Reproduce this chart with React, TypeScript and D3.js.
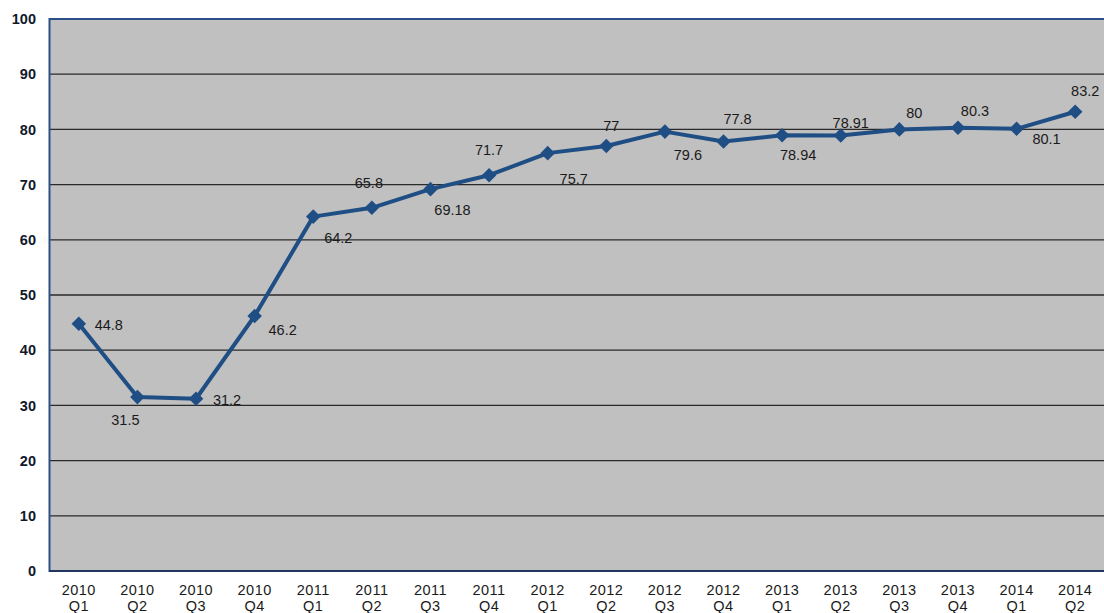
import React from "react";
import * as d3 from "d3";

// Quarterly series
const years = ["2010", "2010", "2010", "2010", "2011", "2011", "2011", "2011", "2012", "2012", "2012", "2012", "2013", "2013", "2013", "2013", "2014", "2014"];
const quarters = ["Q1", "Q2", "Q3", "Q4", "Q1", "Q2", "Q3", "Q4", "Q1", "Q2", "Q3", "Q4", "Q1", "Q2", "Q3", "Q4", "Q1", "Q2"];
const values = [44.8, 31.5, 31.2, 46.2, 64.2, 65.8, 69.18, 71.7, 75.7, 77, 79.6, 77.8, 78.94, 78.91, 80, 80.3, 80.1, 83.2];
const valueLabels = ["44.8", "31.5", "31.2", "46.2", "64.2", "65.8", "69.18", "71.7", "75.7", "77", "79.6", "77.8", "78.94", "78.91", "80", "80.3", "80.1", "83.2"];
const yTicks = [0, 10, 20, 30, 40, 50, 60, 70, 80, 90, 100];

// Where each value label sits relative to its marker (label centre, px)
const labelOffsets: [number, number][] = [
  [30, 1], [-12, 23], [31, 1], [28, 14], [25, 21], [-3, -25], [22, 21], [0, -25], [26, 26],
  [5, -20], [23, 23], [14, -23], [16, 20], [10, -13], [15, -17], [17, -17], [30, 10], [10, -21],
];

const W = 1104;
const H = 613;
const plot = { left: 49.5, right: 1104.5, top: 19, bottom: 571 };
const font = "'Liberation Sans', Arial, sans-serif";
const lineColor = "#1f4e85";
const borderColor = "#2b4f86";

export default function App() {
  const keys = years.map((y, i) => `${y}-${quarters[i]}`);
  const x = d3.scaleBand<string>().domain(keys).range([plot.left, plot.right]).padding(0);
  const y = d3.scaleLinear().domain([0, 100]).range([plot.bottom, plot.top]);
  const cx = (i: number) => (x(keys[i]) as number) + x.bandwidth() / 2;

  const line = d3
    .line<number>()
    .x((_, i) => cx(i))
    .y((d) => y(d));

  const diamond = d3.symbol().type(d3.symbolDiamond2).size(135)() as string;

  return (
    <div style={{ position: "absolute", left: 0, top: 0 }}>
      <svg width={W} height={H} style={{ display: "block", fontFamily: font }}>
        <rect x={0} y={0} width={W} height={H} fill="#ffffff" />
        <rect x={plot.left} y={plot.top} width={plot.right - plot.left} height={plot.bottom - plot.top} fill="#c0c0c0" />

        {/* horizontal gridlines */}
        {yTicks
          .filter((t) => t > 0 && t < 100)
          .map((t) => (
            <line key={t} x1={plot.left} x2={plot.right} y1={y(t)} y2={y(t)} stroke="#2a2a2a" strokeWidth={1.3} />
          ))}

        {/* plot frame */}
        <line x1={plot.left} x2={plot.right} y1={plot.top} y2={plot.top} stroke={borderColor} strokeWidth={2} />
        <line x1={plot.left} x2={plot.left} y1={plot.top - 1} y2={plot.bottom + 1} stroke={borderColor} strokeWidth={2} />
        <line x1={plot.left} x2={plot.right} y1={plot.bottom} y2={plot.bottom} stroke="#1f3560" strokeWidth={2.2} />

        {/* y tick labels */}
        {yTicks.map((t) => (
          <text
            key={t}
            x={36}
            y={y(t)}
            dy="0.36em"
            textAnchor="end"
            fontSize={14.5}
            fontWeight="bold"
            fill="#10182a"
          >
            {t}
          </text>
        ))}

        {/* x tick labels */}
        {keys.map((k, i) => (
          <text key={k} x={cx(i)} textAnchor="middle" fontSize={14.5} fill="#1a1a1a" letterSpacing={0.5}>
            <tspan x={cx(i)} y={595}>
              {years[i]}
            </tspan>
            <tspan x={cx(i)} y={611}>
              {quarters[i]}
            </tspan>
          </text>
        ))}

        {/* series line */}
        <path d={line(values) as string} fill="none" stroke={lineColor} strokeWidth={4} strokeLinejoin="round" />

        {/* markers */}
        {values.map((v, i) => (
          <path key={i} d={diamond} transform={`translate(${cx(i)},${y(v)})`} fill={lineColor} />
        ))}

        {/* value labels */}
        {values.map((v, i) => (
          <text
            key={i}
            x={cx(i) + labelOffsets[i][0]}
            y={y(v) + labelOffsets[i][1]}
            dy="0.36em"
            textAnchor="middle"
            fontSize={14.5}
            fill="#1a1a1a"
          >
            {valueLabels[i]}
          </text>
        ))}
      </svg>
    </div>
  );
}
